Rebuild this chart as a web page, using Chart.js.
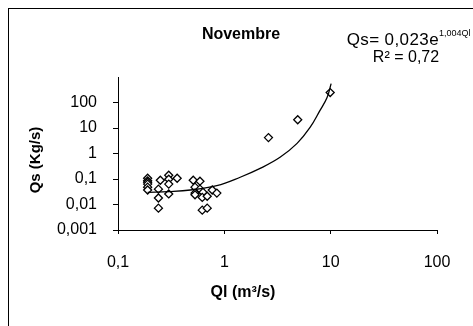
<!DOCTYPE html>
<html>
<head>
<meta charset="utf-8">
<script src="https://cdn.jsdelivr.net/npm/chart.js@4/dist/chart.umd.min.js"></script>
<style>
  html, body { margin: 0; padding: 0; background: #fff; overflow: hidden; }
  #wrap { position: relative; width: 473px; height: 326px; }
  #frame { position: absolute; left: 8px; top: 8px; width: 500px; height: 400px; border: 1px solid #000; }
  canvas { position: absolute; left: 0; top: 0; }
</style>
</head>
<body>
<div id="wrap">
  <div id="frame"></div>
  <canvas id="chart" width="473" height="326"></canvas>
</div>
<script>
// measured points (Ql in m3/s, Qs in kg/s)
const qlPoints = [
  0.19, 0.19, 0.19, 0.19, 0.19, 0.19,
  0.25, 0.24, 0.24, 0.24,
  0.30, 0.30, 0.30, 0.30,
  0.36,
  0.51, 0.59, 0.53, 0.59, 0.53, 0.53, 0.63, 0.62, 0.69, 0.77, 0.85, 0.62, 0.69,
  2.6, 4.9, 9.9
];
const qsPoints = [
  0.107, 0.085, 0.075, 0.063, 0.048, 0.037,
  0.089, 0.040, 0.018, 0.0072,
  0.14, 0.098, 0.063, 0.026,
  0.107,
  0.089, 0.082, 0.048, 0.040, 0.028, 0.024, 0.030, 0.019, 0.021, 0.037, 0.028, 0.0060, 0.0072,
  4.2, 21, 245
];

// trend curve
const trendQl = [0.19, 0.3, 0.48, 0.85, 1.41, 2.17, 3.34, 4.83, 6.4, 7.94, 9.25, 10.1];
const trendQs = [0.03, 0.032, 0.037, 0.055, 0.117, 0.26, 0.71, 2.5, 10.5, 49, 157, 550];

const xTicks = [0.1, 1, 10, 100];
const xTickLabels = ["0,1", "1", "10", "100"];
const yTicks = [0.001, 0.01, 0.1, 1, 10, 100];
const yTickLabels = ["0,001", "0,01", "0,1", "1", "10", "100"];

const FONT = "'Liberation Sans', Arial, sans-serif";

// text drawn on top: title, equation, axis titles
const textPlugin = {
  id: "texts",
  afterDraw(chart) {
    const ctx = chart.ctx;
    ctx.save();
    ctx.fillStyle = "#000";
    ctx.textBaseline = "middle";

    ctx.font = "bold 16px " + FONT;
    ctx.textAlign = "center";
    ctx.fillText("Novembre", 241, 35);

    // equation
    ctx.letterSpacing = "0.4px";
    ctx.font = "17px " + FONT;
    ctx.textAlign = "right";
    ctx.fillText("Qs= 0,023e", 439, 40);
    ctx.letterSpacing = "0px";
    ctx.font = "9px " + FONT;
    ctx.textAlign = "left";
    ctx.fillText("1,004Ql", 439, 34);
    ctx.font = "16px " + FONT;
    ctx.textAlign = "center";
    ctx.fillText("R² = 0,72", 406, 58);

    // axis titles
    ctx.font = "bold 16px " + FONT;
    ctx.fillText("Ql (m³/s)", 243, 293);
    ctx.font = "bold 15px " + FONT;
    ctx.translate(36, 160);
    ctx.rotate(-Math.PI / 2);
    ctx.fillText("Qs (Kg/s)", 0, 0);
    ctx.restore();
  }
};

new Chart(document.getElementById("chart"), {
  type: "scatter",
  data: {
    datasets: [
      {
        label: "trend",
        data: trendQl.map((x, i) => ({ x: x, y: trendQs[i] })),
        showLine: true,
        borderColor: "#000",
        borderWidth: 1.3,
        pointRadius: 0,
        tension: 0.4,
        fill: false,
      },
      {
        label: "Qs",
        data: qlPoints.map((x, i) => ({ x: x, y: qsPoints[i] })),
        pointStyle: "rectRot",
        pointRadius: 4,
        borderColor: "#000",
        borderWidth: 1.3,
        backgroundColor: "#fff",
      },
    ],
  },
  options: {
    responsive: false,
    animation: false,
    layout: { padding: { top: 77, right: 36, left: 0, bottom: 0 } },
    plugins: {
      legend: { display: false },
      tooltip: { enabled: false },
    },
    scales: {
      x: {
        type: "logarithmic",
        min: 0.1,
        max: 100,
        afterBuildTicks: (s) => { s.ticks = xTicks.map((v) => ({ value: v })); },
        afterFit: (s) => { s.height = 96; },
        ticks: {
          color: "#000",
          font: { family: FONT, size: 16 },
          padding: 19,
          maxRotation: 0,
          callback: (v) => xTickLabels[xTicks.indexOf(v)],
        },
        grid: { drawOnChartArea: false, drawTicks: true, tickLength: 4, color: "#000" },
        border: { display: true, color: "#000", width: 1 },
      },
      y: {
        type: "logarithmic",
        min: 0.001,
        max: 1000,
        afterBuildTicks: (s) => { s.ticks = yTicks.map((v) => ({ value: v })); },
        afterFit: (s) => { s.width = 118; },
        ticks: {
          color: "#000",
          font: { family: FONT, size: 16 },
          padding: 16,
          callback: (v) => yTickLabels[yTicks.indexOf(v)],
        },
        grid: { drawOnChartArea: false, drawTicks: true, tickLength: 5, color: "#000" },
        border: { display: true, color: "#000", width: 1 },
      },
    },
  },
  plugins: [textPlugin],
});
</script>
</body>
</html>
